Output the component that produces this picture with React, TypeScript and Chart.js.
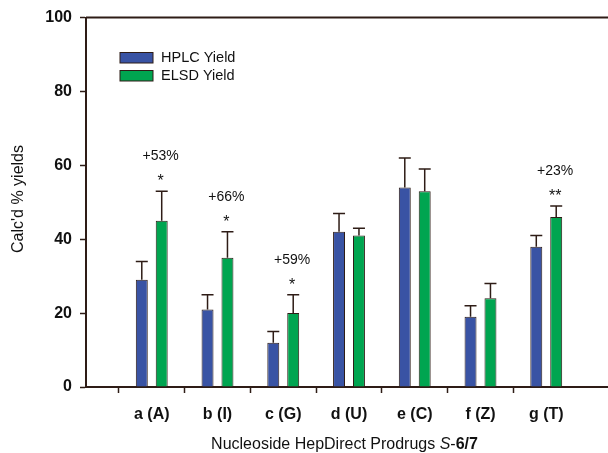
import React, { useEffect, useRef } from "react";
import { Chart, registerables } from "chart.js";

Chart.register(...registerables);

const categories = ["a (A)", "b (I)", "c (G)", "d (U)", "e (C)", "f (Z)", "g (T)"];
const seriesNames = ["HPLC Yield", "ELSD Yield"];
const hplcValues = [29, 21, 12, 42, 54, 19, 38];
const hplcErrors = [5, 4, 3, 5, 8, 3, 3];
const elsdValues = [45, 35, 20, 41, 53, 24, 46];
const elsdErrors = [8, 7, 5, 2, 6, 4, 3];
const yTicks = [0, 20, 40, 60, 80, 100];
const annotCategories = ["a (A)", "b (I)", "c (G)", "g (T)"];
const annotLabels = ["+53%", "+66%", "+59%", "+23%"];
const annotStars = ["*", "*", "*", "**"];

const FONT = '"Liberation Sans", Arial, Helvetica, sans-serif';
const DARK = "#2e1c16";
const BLUE = "#3953a4";
const GREEN = "#00a550";

export default function App() {
  const ref = useRef<HTMLCanvasElement | null>(null);

  useEffect(() => {
    const canvas = ref.current;
    if (!canvas) return;
    const labels = ["", ...categories, ""];
    const pad = (a: number[]) => [null, ...a, null];
    const errs = [pad(hplcErrors), pad(elsdErrors)];

    const errorBars = {
      id: "errorBars",
      afterDatasetsDraw(chart: any) {
        const ctx = chart.ctx;
        const ys = chart.scales.y;
        ctx.save();
        ctx.strokeStyle = DARK;
        ctx.lineWidth = 1.5;
        chart.data.datasets.forEach((ds: any, di: number) => {
          const meta = chart.getDatasetMeta(di);
          meta.data.forEach((el: any, i: number) => {
            const v = ds.data[i];
            const e = errs[di][i];
            if (v == null || e == null) return;
            const top = ys.getPixelForValue(v + e);
            ctx.beginPath();
            ctx.moveTo(el.x, el.y);
            ctx.lineTo(el.x, top);
            ctx.moveTo(el.x - 6, top);
            ctx.lineTo(el.x + 6, top);
            ctx.stroke();
          });
        });
        ctx.restore();
      },
    };

    const decorations = {
      id: "decorations",
      afterDraw(chart: any) {
        const ctx = chart.ctx;
        const ca = chart.chartArea;
        const ys = chart.scales.y;
        ctx.save();
        ctx.strokeStyle = DARK;
        ctx.lineWidth = 2;
        ctx.beginPath();
        ctx.moveTo(ca.left, ca.top);
        ctx.lineTo(ca.right, ca.top);
        ctx.lineTo(ca.right, ca.bottom);
        ctx.stroke();

        const colors = [BLUE, GREEN];
        seriesNames.forEach((name, i) => {
          const y = 52.5 + i * 18;
          ctx.fillStyle = colors[i];
          ctx.fillRect(120, y, 33, 10.5);
          ctx.strokeStyle = DARK;
          ctx.lineWidth = 1;
          ctx.strokeRect(120, y, 33, 10.5);
          ctx.fillStyle = "#111";
          ctx.font = `14.5px ${FONT}`;
          ctx.textAlign = "left";
          ctx.textBaseline = "middle";
          ctx.fillText(name, 161, y + 5.5);
        });

        const meta = chart.getDatasetMeta(1);
        annotCategories.forEach((cat, k) => {
          const idx = categories.indexOf(cat) + 1;
          const el = meta.data[idx];
          const top = ys.getPixelForValue(elsdValues[idx - 1] + elsdErrors[idx - 1]);
          ctx.fillStyle = "#111";
          ctx.textAlign = "center";
          ctx.font = `14px ${FONT}`;
          ctx.textBaseline = "middle";
          ctx.fillText(annotLabels[k], el.x - 1, top - 35);
          ctx.font = `16px ${FONT}`;
          ctx.textBaseline = "alphabetic";
          ctx.fillText(annotStars[k], el.x - 1, top - 5);
        });

        ctx.save();
        ctx.translate(19, 199);
        ctx.rotate(-Math.PI / 2);
        ctx.font = `16px ${FONT}`;
        ctx.textAlign = "center";
        ctx.textBaseline = "middle";
        ctx.fillStyle = "#111";
        ctx.fillText("Calc'd % yields", 0, 0);
        ctx.restore();

        const segs = [
          { t: "Nucleoside HepDirect Prodrugs ", f: `16px ${FONT}` },
          { t: "S", f: `italic 16px ${FONT}` },
          { t: "-", f: `16px ${FONT}` },
          { t: "6/7", f: `bold 16px ${FONT}` },
        ];
        let total = 0;
        segs.forEach((s) => {
          ctx.font = s.f;
          total += ctx.measureText(s.t).width;
        });
        let x = 344.5 - total / 2;
        ctx.textAlign = "left";
        ctx.textBaseline = "alphabetic";
        ctx.fillStyle = "#111";
        segs.forEach((s) => {
          ctx.font = s.f;
          ctx.fillText(s.t, x, 449);
          x += ctx.measureText(s.t).width;
        });
        ctx.restore();
      },
    };

    const chart = new Chart(canvas, {
      type: "bar",
      data: {
        labels,
        datasets: [
          {
            label: seriesNames[0],
            data: pad(hplcValues),
            backgroundColor: BLUE,
            borderColor: DARK,
            borderWidth: 1,
          },
          {
            label: seriesNames[1],
            data: pad(elsdValues),
            backgroundColor: GREEN,
            borderColor: DARK,
            borderWidth: 1,
          },
        ],
      },
      options: {
        responsive: false,
        animation: false,
        layout: { padding: { top: 17, right: 0, left: 0, bottom: 0 } },
        datasets: { bar: { categoryPercentage: 0.606, barPercentage: 0.6 } },
        plugins: { legend: { display: false }, tooltip: { enabled: false }, title: { display: false } },
        scales: {
          x: {
            offset: false,
            grid: {
              drawOnChartArea: false,
              drawTicks: true,
              tickLength: 6,
              tickColor: (c: any) => (c.index === 0 || c.index === labels.length - 1 ? "rgba(0,0,0,0)" : DARK),
              tickWidth: 1.5,
            },
            border: { display: true, color: DARK, width: 2 },
            ticks: {
              autoSkip: false,
              maxRotation: 0,
              padding: 12,
              color: "#111",
              font: { family: FONT, size: 16, weight: "bold" },
            },
            afterFit: (s: any) => {
              s.height = 66;
            },
          },
          y: {
            min: 0,
            max: 100,
            afterBuildTicks: (s: any) => {
              s.ticks = yTicks.map((v) => ({ value: v }));
            },
            grid: { drawOnChartArea: false, drawTicks: true, tickLength: 6, color: DARK, tickWidth: 1.5 },
            border: { display: true, color: DARK, width: 2 },
            ticks: {
              padding: 8,
              color: "#111",
              font: { family: FONT, size: 16, weight: "bold" },
            },
            afterFit: (s: any) => {
              s.width = 86;
            },
          },
        },
      },
      plugins: [errorBars, decorations],
    } as any);
    return () => chart.destroy();
  }, []);

  return (
    <div style={{ position: "fixed", left: 0, top: 0, width: 608, height: 453, overflow: "hidden", background: "#fff" }}>
      <canvas ref={ref} width={624} height={453} style={{ width: 624, height: 453, display: "block" }} />
    </div>
  );
}
